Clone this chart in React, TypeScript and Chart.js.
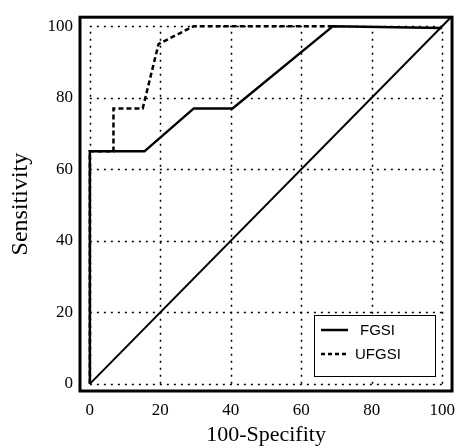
import React, { useEffect, useRef } from 'react';
import { Chart, registerables } from 'chart.js';

Chart.register(...registerables);

// ---- data ----
const fgsiX = [0, 0, 15.5, 29.5, 40.5, 69, 100];
const fgsiY = [0, 65, 65, 77, 77, 100, 99.5];
const ufgsiX = [0, 0, 6.7, 6.7, 15, 19.5, 29.5, 69];
const ufgsiY = [0, 65, 65, 77, 77, 95, 100, 100];
const refX = [0, 102.5];
const refY = [0, 102.5];
const tickValues = [0, 20, 40, 60, 80, 100];
const seriesLabels = ['FGSI', 'UFGSI'];
const xTitle = '100-Specifity';
const yTitle = 'Sensitivity';

const SERIF = '"Liberation Serif", "Times New Roman", serif';
const SANS = '"Liberation Sans", Arial, sans-serif';

const toPts = (xs: number[], ys: number[]) => xs.map((x, i) => ({ x, y: ys[i] }));

const rocPlugin = {
  id: 'rocDecor',
  beforeDatasetsDraw(chart: any) {
    const { ctx, scales } = chart;
    const x = scales.x;
    const y = scales.y;
    const x0 = x.getPixelForValue(0);
    const x1 = x.getPixelForValue(100);
    const y0 = y.getPixelForValue(0);
    const y1 = y.getPixelForValue(100);
    ctx.save();
    ctx.strokeStyle = '#000';
    ctx.lineWidth = 1.5;
    ctx.setLineDash([2, 5]);
    tickValues.forEach((v) => {
      const px = Math.round(x.getPixelForValue(v)) + 0.5;
      ctx.beginPath();
      ctx.moveTo(px, y0);
      ctx.lineTo(px, y1);
      ctx.stroke();
      const py = Math.round(y.getPixelForValue(v)) + 0.5;
      ctx.beginPath();
      ctx.moveTo(x0, py);
      ctx.lineTo(x1, py);
      ctx.stroke();
    });
    ctx.restore();
  },
  afterDatasetsDraw(chart: any) {
    const { ctx, chartArea: a } = chart;
    ctx.save();
    ctx.setLineDash([]);
    ctx.strokeStyle = '#000';
    ctx.lineWidth = 3;
    ctx.strokeRect(a.left, a.top, a.right - a.left, a.bottom - a.top);

    // legend box
    const w = 121;
    const h = 61;
    const lx = Math.round(a.right - 17 - w);
    const ly = Math.round(a.bottom - 15 - h);
    ctx.fillStyle = '#fff';
    ctx.fillRect(lx, ly, w, h);
    ctx.lineWidth = 1;
    ctx.strokeRect(lx + 0.5, ly + 0.5, w, h);

    const ds = chart.data.datasets;
    [0, 1].forEach((i) => {
      const d = ds[i];
      const yy = ly + 15 + i * 24;
      ctx.beginPath();
      ctx.lineWidth = 2.5;
      ctx.setLineDash(i === 0 ? [] : [4, 3]);
      ctx.moveTo(lx + 7, yy);
      ctx.lineTo(lx + 34, yy);
      ctx.stroke();
      ctx.setLineDash([]);
      ctx.fillStyle = '#000';
      ctx.font = `15px ${SANS}`;
      ctx.textBaseline = 'middle';
      ctx.textAlign = 'left';
      ctx.fillText(d.label, lx + (i === 0 ? 46 : 41), yy + 1);
    });
    ctx.restore();
  },
};

export default function App() {
  const ref = useRef<HTMLCanvasElement>(null);

  useEffect(() => {
    if (!ref.current) return;
    const chart = new Chart(ref.current, {
      type: 'line',
      data: {
        datasets: [
          {
            label: seriesLabels[0],
            data: toPts(fgsiX, fgsiY),
            borderColor: '#000',
            borderWidth: 2.5,
            pointRadius: 0,
            tension: 0,
            fill: false,
          },
          {
            label: seriesLabels[1],
            data: toPts(ufgsiX, ufgsiY),
            borderColor: '#000',
            borderWidth: 2.5,
            borderDash: [5, 3],
            pointRadius: 0,
            tension: 0,
            fill: false,
          },
          {
            label: 'ref',
            data: toPts(refX, refY),
            borderColor: '#000',
            borderWidth: 2,
            pointRadius: 0,
            tension: 0,
            fill: false,
          },
        ],
      },
      options: {
        responsive: false,
        animation: false,
        devicePixelRatio: 1,
        layout: { padding: { top: 15, right: 3, left: 0, bottom: 0 } },
        plugins: {
          legend: { display: false },
          tooltip: { enabled: false },
        },
        scales: {
          x: {
            type: 'linear',
            min: -2.8,
            max: 102.8,
            afterBuildTicks: (s: any) => {
              s.ticks = tickValues.map((v) => ({ value: v }));
            },
            afterFit: (s: any) => {
              s.height = 57;
            },
            grid: { display: false, drawTicks: false },
            border: { display: false },
            ticks: {
              color: '#000',
              padding: 9,
              maxRotation: 0,
              font: { family: SERIF, size: 17 },
            },
            title: {
              display: true,
              text: xTitle,
              color: '#000',
              padding: { top: 0, bottom: 0 },
              font: { family: SERIF, size: 22 },
            },
          },
          y: {
            type: 'linear',
            min: -2,
            max: 102.5,
            afterBuildTicks: (s: any) => {
              s.ticks = tickValues.map((v) => ({ value: v }));
            },
            afterFit: (s: any) => {
              s.width = 80;
            },
            grid: { display: false, drawTicks: false },
            border: { display: false },
            ticks: {
              color: '#000',
              padding: 7,
              font: { family: SERIF, size: 17 },
            },
            title: {
              display: true,
              text: yTitle,
              color: '#000',
              padding: { top: 6, bottom: 0 },
              font: { family: SERIF, size: 24 },
            },
          },
        },
      },
      plugins: [rocPlugin],
    } as any);
    return () => chart.destroy();
  }, []);

  return (
    <div style={{ position: 'absolute', left: 0, top: 0, width: 464, height: 448, background: '#fff' }}>
      <canvas ref={ref} width={464} height={448} style={{ display: 'block' }} />
    </div>
  );
}
